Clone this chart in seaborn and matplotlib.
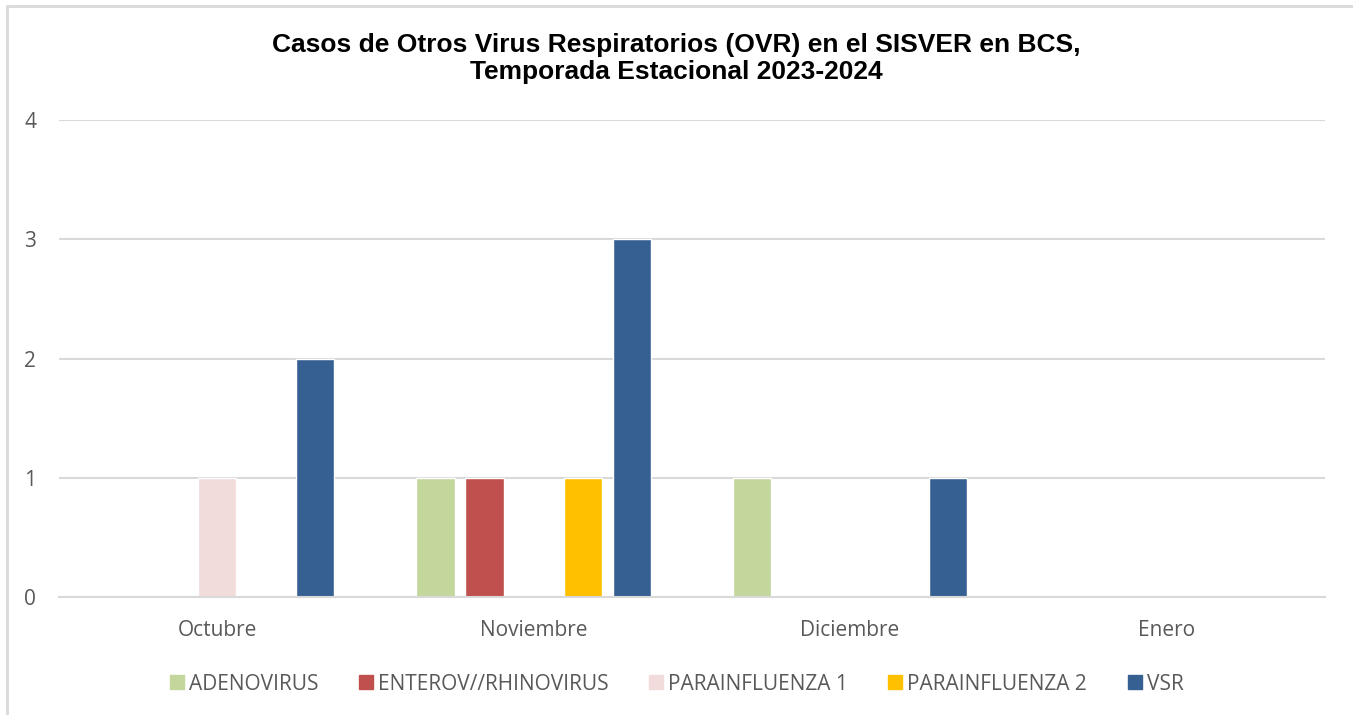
import pandas as pd
import matplotlib
matplotlib.use("Agg")
import matplotlib.pyplot as plt
from matplotlib.patches import Rectangle
import seaborn as sns

# Data
months = ["Octubre", "Noviembre", "Diciembre", "Enero"]
series = ["ADENOVIRUS", "ENTEROV//RHINOVIRUS", "PARAINFLUENZA 1", "PARAINFLUENZA 2", "VSR"]
adenovirus = [0, 1, 1, 0]
enterov_rhinovirus = [0, 1, 0, 0]
parainfluenza_1 = [1, 0, 0, 0]
parainfluenza_2 = [0, 1, 0, 0]
vsr = [2, 3, 1, 0]
colors = ["#C3D69B", "#C0504D", "#F2DCDB", "#FFC000", "#376092"]

values = [adenovirus, enterov_rhinovirus, parainfluenza_1, parainfluenza_2, vsr]
rows = []
for name, vals in zip(series, values):
    for m, v in zip(months, vals):
        rows.append({"Mes": m, "Virus": name, "Casos": v})
df = pd.DataFrame(rows)

sns.set_theme(style="white")
plt.rcParams["font.family"] = ["Open Sans", "DejaVu Sans"]

fig = plt.figure(figsize=(13.53, 7.15), dpi=100)
ax = fig.add_axes([0.0436, 0.165, 0.9354, 0.667])

sns.barplot(data=df, x="Mes", y="Casos", hue="Virus", order=months, hue_order=series,
            palette=colors, width=0.775, gap=0.22, ax=ax, legend=False, saturation=1)

ax.set_ylim(0, 4)
ax.set_yticks([0, 1, 2, 3, 4])
ax.yaxis.grid(True, color="#D9D9D9", linewidth=1.5)
ax.set_axisbelow(True)
for s in ["top", "right", "left"]:
    ax.spines[s].set_visible(False)
ax.spines["bottom"].set_color("#D9D9D9")
ax.spines["bottom"].set_linewidth(1.5)
ax.set_xlabel("")
ax.set_ylabel("")
ax.tick_params(axis="both", length=0, labelsize=15, colors="#595959")
ax.tick_params(axis="y", pad=16.5)
ax.tick_params(axis="x", pad=16.5)

# title, two lines placed separately
title_kw = dict(ha="center", va="center", fontsize=19, fontweight="bold", color="black",
                family="Liberation Sans")
fig.text(0.5, 1 - 45 / 715, "Casos de Otros Virus Respiratorios (OVR) en el SISVER en BCS,", **title_kw)
fig.text(0.5, 1 - 72 / 715, "Temporada Estacional 2023-2024", **title_kw)

handles = [Rectangle((0, 0), 1, 1, color=c) for c in colors]
leg = fig.legend(handles, series, loc="center", bbox_to_anchor=(0.5, 1 - 684 / 715), ncol=5,
                 frameon=False, fontsize=15, handlelength=0.67, handleheight=0.67,
                 handletextpad=0.24, columnspacing=1.95)
for t in leg.get_texts():
    t.set_color("#595959")

# outer chart frame
fig.patches.append(Rectangle((7 / 1353, -0.1), 1.2, 1 - 6 / 715 + 0.1, transform=fig.transFigure,
                             fill=False, edgecolor="#D9D9D9", linewidth=2, zorder=10))

fig.savefig("out.png", dpi=100)
